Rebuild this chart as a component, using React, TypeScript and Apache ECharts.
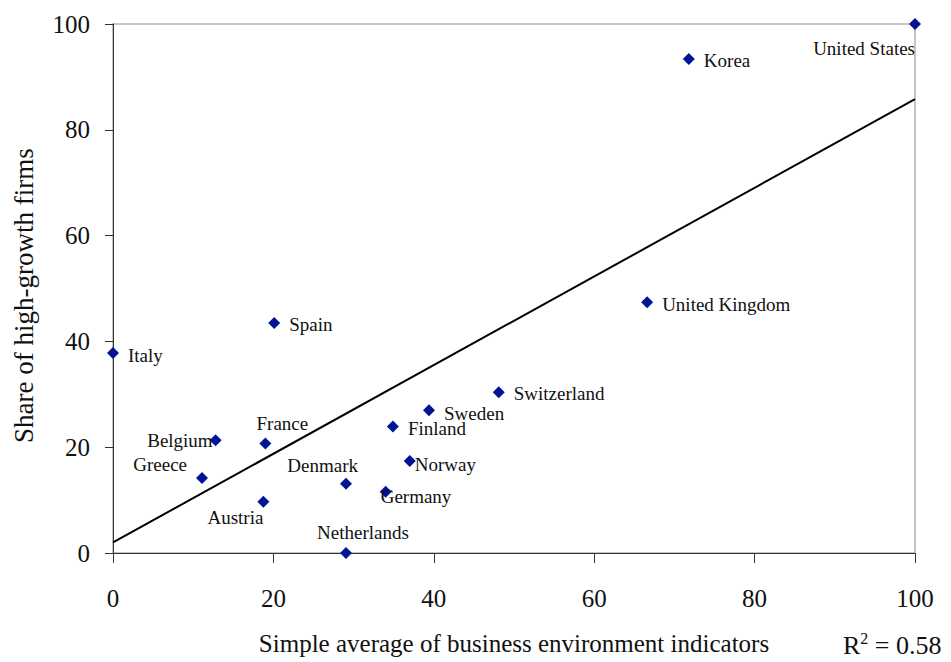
import React, { useEffect, useRef } from "react";
import * as echarts from "echarts";

// Business environment score (x) vs share of high-growth firms (y), indexed 0–100
const countries = [
  "Italy", "Spain", "Belgium", "France", "Greece", "Austria", "Denmark", "Netherlands",
  "Germany", "Finland", "Norway", "Sweden", "Switzerland", "United Kingdom", "Korea", "United States",
];
const envScores = [0, 20.1, 12.8, 19.0, 11.1, 18.75, 29.05, 29.05, 34.0, 34.9, 37.0, 39.4, 48.1, 66.6, 71.8, 100];
const highGrowthShares = [37.8, 43.5, 21.3, 20.7, 14.2, 9.7, 13.1, 0, 11.6, 23.9, 17.4, 27.0, 30.4, 47.4, 93.4, 100];

// Fitted trend line end points
const trendX = [0, 100];
const trendY = [2.0, 85.8];

const xTicks = [0, 20, 40, 60, 80, 100];
const yTicks = [0, 20, 40, 60, 80, 100];
const rSquared = "0.58";

// Where each country's label sits relative to its marker
const labelPlacement: Record<string, { dx: number; dy: number; align: "left" | "right" | "center" }> = {
  Italy: { dx: 15, dy: 2, align: "left" },
  Spain: { dx: 15, dy: 2, align: "left" },
  Belgium: { dx: -3, dy: 0, align: "right" },
  France: { dx: 17, dy: -20, align: "center" },
  Greece: { dx: -15, dy: -13, align: "right" },
  Austria: { dx: 0, dy: 16, align: "right" },
  Denmark: { dx: 12, dy: -18, align: "right" },
  Netherlands: { dx: 17, dy: -21, align: "center" },
  Germany: { dx: -5, dy: 5, align: "left" },
  Finland: { dx: 15, dy: 2, align: "left" },
  Norway: { dx: 5, dy: 4, align: "left" },
  Sweden: { dx: 15, dy: 3, align: "left" },
  Switzerland: { dx: 15, dy: 1, align: "left" },
  "United Kingdom": { dx: 15, dy: 2, align: "left" },
  Korea: { dx: 15, dy: 2, align: "left" },
  "United States": { dx: 0, dy: 24, align: "right" },
};

const FONT = "'Liberation Serif', 'Times New Roman', serif";

export default function App() {
  const ref = useRef<HTMLDivElement>(null);

  useEffect(() => {
    if (!ref.current) return;
    const chart = echarts.init(ref.current, undefined, { renderer: "svg" });

    const points = countries.map((name, i) => {
      const p = labelPlacement[name];
      return {
        name,
        value: [envScores[i], highGrowthShares[i]],
        label: {
          show: true,
          position: "inside",
          offset: [p.dx, p.dy],
          align: p.align,
          verticalAlign: "middle",
          formatter: name,
        },
      };
    });

    chart.setOption({
      animation: false,
      textStyle: { fontFamily: FONT },
      grid: {
        left: 113,
        right: 36,
        top: 24,
        bottom: 109,
        show: true,
        borderColor: "#b4b4b4",
        borderWidth: 1.5,
      },
      xAxis: {
        type: "value",
        min: 0,
        max: 100,
        interval: 20,
        splitLine: { show: false },
        axisLine: { lineStyle: { color: "#333", width: 1 } },
        axisTick: { show: true, length: 10, lineStyle: { color: "#333" } },
        axisLabel: {
          margin: 33,
          fontSize: 25,
          color: "#111",
          fontFamily: FONT,
          customValues: xTicks,
        },
        name: "Simple average of business environment indicators",
        nameLocation: "middle",
        nameGap: 90,
        nameTextStyle: { fontSize: 25, color: "#111", fontFamily: FONT, verticalAlign: "middle" },
      },
      yAxis: {
        type: "value",
        min: 0,
        max: 100,
        interval: 20,
        splitLine: { show: false },
        axisLine: { lineStyle: { color: "#333", width: 1 } },
        axisTick: { show: true, length: 8, lineStyle: { color: "#333" } },
        axisLabel: {
          margin: 23,
          fontSize: 25,
          color: "#111",
          fontFamily: FONT,
          customValues: yTicks,
        },
      },
      graphic: [
        {
          type: "text",
          x: 24,
          y: 443,
          rotation: Math.PI / 2,
          style: {
            text: "Share of high-growth firms",
            fontSize: 27,
            fontFamily: FONT,
            fill: "#111",
            align: "left",
            verticalAlign: "middle",
          },
        },
        {
          type: "text",
          left: 843,
          top: 630,
          style: {
            text: "{r|R}{sup|2}{r| = " + rSquared + "}",
            fontFamily: FONT,
            fill: "#111",
            rich: {
              r: { fontSize: 26, fontFamily: FONT, fill: "#111", verticalAlign: "bottom" },
              sup: { fontSize: 16, fontFamily: FONT, fill: "#111", verticalAlign: "top", padding: [0, 0, 12, 0] },
            },
          },
        },
      ],
      series: [
        {
          type: "line",
          data: trendX.map((x, i) => [x, trendY[i]]),
          showSymbol: false,
          symbol: "none",
          lineStyle: { color: "#000", width: 2 },
          silent: true,
          z: 2,
        },
        {
          type: "scatter",
          symbol: "diamond",
          symbolSize: 12,
          itemStyle: { color: "#001496", opacity: 1 },
          label: {
            color: "#111",
            fontSize: 19,
            fontFamily: FONT,
          },
          data: points,
          z: 3,
        },
      ],
    });

    return () => chart.dispose();
  }, []);

  return <div ref={ref} style={{ width: 951, height: 662, position: "absolute", left: 0, top: 0 }} />;
}
